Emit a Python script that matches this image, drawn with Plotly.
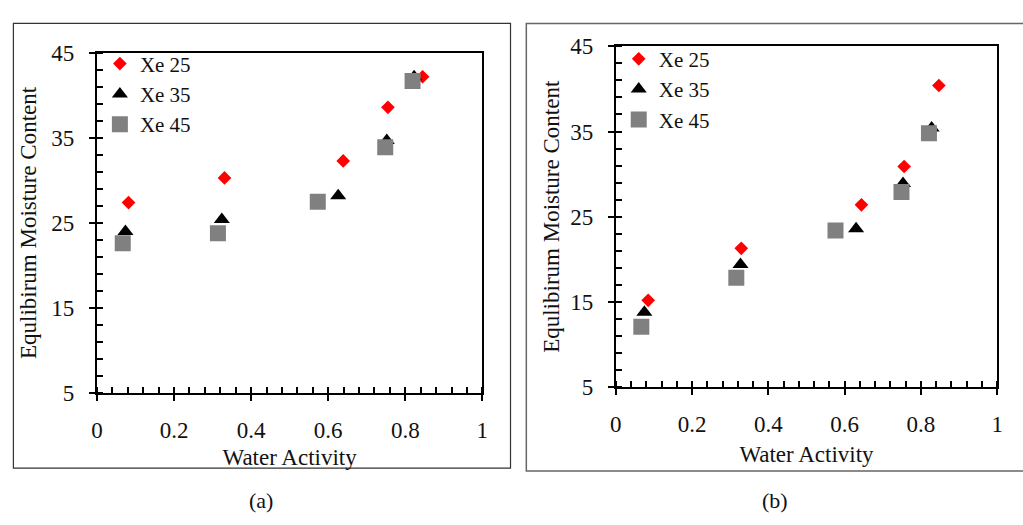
import plotly.graph_objects as go

W, H = 1023, 525

# ---------------- data ----------------
series_names = ["Xe 25", "Xe 35", "Xe 45"]

# panel (a)
a_x25 = [0.082, 0.331, 0.639, 0.755, 0.845]
a_y25 = [27.4, 30.3, 32.3, 38.6, 42.2]
a_x35 = [0.074, 0.324, 0.626, 0.752, 0.823]
a_y35 = [24.0, 25.4, 28.2, 34.7, 42.2]
a_x45 = [0.067, 0.314, 0.573, 0.748, 0.819]
a_y45 = [22.6, 23.8, 27.5, 33.9, 41.7]

# panel (b)
b_x25 = [0.085, 0.329, 0.644, 0.756, 0.847]
b_y25 = [15.2, 21.3, 26.4, 30.9, 40.4]
b_x35 = [0.075, 0.327, 0.630, 0.753, 0.828]
b_y35 = [13.8, 19.4, 23.6, 28.9, 35.4]
b_x45 = [0.067, 0.316, 0.576, 0.749, 0.821]
b_y45 = [12.1, 17.85, 23.4, 27.9, 34.8]

x_title = "Water Activity"
y_title = "Equlibirum Moisture Content"
panel_labels = ["(a)", "(b)"]

# ---------------- styles ----------------
FONT = "Liberation Serif"
TXT = "#111111"
styles = [
    dict(symbol="diamond", size=10.5, color="#ff0000"),
    dict(symbol="triangle-up", size=14, color="#000000"),
    dict(symbol="square", size=16, color="#808080"),
]

fig = go.Figure()

panels = [
    ("x", "y", "legend", [(a_x25, a_y25), (a_x35, a_y35), (a_x45, a_y45)]),
    ("x2", "y2", "legend2", [(b_x25, b_y25), (b_x35, b_y35), (b_x45, b_y45)]),
]
for xa, ya, lg, data in panels:
    for name, (xs, ys), st in zip(series_names, data, styles):
        fig.add_trace(go.Scatter(
            x=xs, y=ys, mode="markers", name=name, xaxis=xa, yaxis=ya, legend=lg,
            marker=dict(symbol=st["symbol"], size=st["size"], color=st["color"],
                        line=dict(width=0)),
        ))

def px_x(p):
    return p / W

def px_y(p):
    return 1 - p / H

tickfont = dict(family=FONT, size=23, color=TXT)
titlefont = dict(family=FONT, size=23, color=TXT)

def xaxis_cfg(dom, yanchor, standoff):
    return dict(domain=dom, anchor=yanchor, range=[0, 1], dtick=0.2, tick0=0,
                ticks="outside", ticklen=6, tickwidth=2, tickcolor="black",
                minor=dict(dtick=0.04, tick0=0, ticks="inside", ticklen=6,
                           tickwidth=1.5, tickcolor="black"),
                showline=True, linecolor="black", linewidth=2, mirror=True,
                showgrid=False, zeroline=False, tickfont=tickfont,
                ticklabelstandoff=9,
                title=dict(text=x_title, font=titlefont, standoff=standoff))

def yaxis_cfg(dom, xanchor, standoff):
    return dict(domain=dom, anchor=xanchor, range=[5, 45], dtick=10, tick0=5,
                ticks="outside", ticklen=6, tickwidth=2, tickcolor="black",
                minor=dict(dtick=2, tick0=5, ticks="inside", ticklen=6,
                           tickwidth=1.5, tickcolor="black"),
                showline=True, linecolor="black", linewidth=2, mirror=True,
                showgrid=False, zeroline=False, tickfont=tickfont,
                ticklabelstandoff=10,
                title=dict(text=y_title, font=titlefont, standoff=standoff))

a_xdom = [px_x(92), px_x(482)]
a_ydom = [px_y(400), px_y(43)]
b_xdom = [px_x(617), px_x(1003)]
b_ydom = [px_y(394), px_y(36)]

def overlay_x(dom, yanchor, over):
    return dict(domain=dom, anchor=yanchor, overlaying=over, range=[0, 1], dtick=0.2,
                tick0=0, ticks="inside", ticklen=6, tickwidth=2, tickcolor="black",
                showticklabels=False, showline=False, showgrid=False, zeroline=False)

def overlay_y(dom, xanchor, over):
    return dict(domain=dom, anchor=xanchor, overlaying=over, range=[5, 45], dtick=10,
                tick0=5, ticks="inside", ticklen=6, tickwidth=2, tickcolor="black",
                showticklabels=False, showline=False, showgrid=False, zeroline=False)

legend_common = dict(font=dict(family=FONT, size=21, color=TXT),
                     bgcolor="rgba(0,0,0,0)", borderwidth=0,
                     xanchor="left", yanchor="top", itemsizing="trace",
                     tracegroupgap=0)

fig.update_layout(
    width=W, height=H, autosize=False,
    margin=dict(l=0, r=0, t=0, b=0),
    paper_bgcolor="white", plot_bgcolor="white",
    font=dict(family=FONT, color=TXT),
    xaxis=xaxis_cfg(a_xdom, "y", 7),
    yaxis=yaxis_cfg(a_ydom, "x", 8),
    xaxis2=xaxis_cfg(b_xdom, "y2", 10),
    yaxis2=yaxis_cfg(b_ydom, "x2", 4),
    xaxis3=overlay_x(a_xdom, "y", "x"),
    yaxis3=overlay_y(a_ydom, "x", "y"),
    xaxis4=overlay_x(b_xdom, "y2", "x2"),
    yaxis4=overlay_y(b_ydom, "x2", "y2"),
    legend=dict(x=px_x(95), y=px_y(33), **legend_common),
    legend2=dict(x=px_x(620), y=px_y(28), **legend_common),
    showlegend=True,
    shapes=[
        dict(type="rect", xref="paper", yref="paper",
             x0=px_x(7.5), x1=px_x(510.5), y0=px_y(479), y1=px_y(12),
             line=dict(color="#333", width=1.2), fillcolor="rgba(0,0,0,0)", layer="below"),
        dict(type="rect", xref="paper", yref="paper",
             x0=px_x(526.5), x1=px_x(1030), y0=px_y(482), y1=px_y(12),
             line=dict(color="#666", width=1.5), fillcolor="rgba(0,0,0,0)", layer="below"),
    ],
    annotations=[
        dict(text=panel_labels[0], xref="paper", yref="paper", x=px_x(258), y=px_y(513),
             showarrow=False, font=dict(family=FONT, size=22, color=TXT),
             xanchor="center", yanchor="middle"),
        dict(text=panel_labels[1], xref="paper", yref="paper", x=px_x(778), y=px_y(513),
             showarrow=False, font=dict(family=FONT, size=22, color=TXT),
             xanchor="center", yanchor="middle"),
    ],
)

fig.write_html("out.html")
